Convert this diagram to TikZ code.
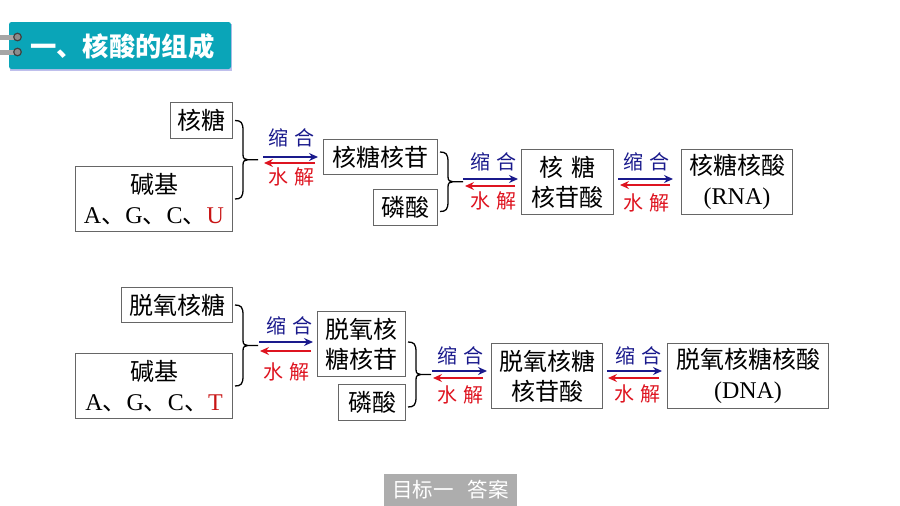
\documentclass[tikz,border=0pt]{standalone}
\usepackage{fontspec}
\setmainfont{Noto Sans CJK SC}
\newfontfamily\lat{Liberation Serif}
\usetikzlibrary{arrows.meta, calc}
\definecolor{titlecol}{RGB}{10,165,184}
\definecolor{hecol}{RGB}{26,26,140}
\definecolor{jiecol}{RGB}{222,20,32}
\definecolor{ucol}{RGB}{200,20,20}
\newcommand{\suohe}{缩\hspace*{6pt}合}
\newcommand{\shuijie}{水\hspace*{6pt}解}
\tikzset{
	box/.style={draw=black!60, line width=1pt, inner sep=0pt, align=center, font=\fontsize{24}{30}\selectfont},
	helabel/.style={text=hecol, inner sep=0pt, font=\fontsize{20}{20}\selectfont},
	jielabel/.style={text=jiecol, inner sep=0pt, font=\fontsize{20}{20}\selectfont},
	hearrow/.style={-{Stealth[length=9pt, width=8pt, inset=3pt]}, hecol, line width=1.5pt},
	jiearrow/.style={-{Stealth[length=9pt, width=8pt, inset=3pt]}, jiecol, line width=1.5pt},
	brkline/.style={black, line width=1.3pt},
	brk/.style={to path={
		let \p1=(\tikztostart), \p2=(\tikztotarget), \p3=($(\tikztostart)!.5!(\tikztotarget)$) in
		(\x1+2pt,\y1) .. controls (\x1+8pt,\y1) and (\x1+10pt,\y1-2pt) .. (\x1+10pt,\y1-10pt)
		-- (\x1+10pt,\y3+5pt) .. controls (\x1+10pt,\y3+1pt) and (\x1+12pt,\y3) .. (\x1+15pt,\y3)
		-- (\x1+25pt,\y3)
		(\x1+15pt,\y3) .. controls (\x1+12pt,\y3) and (\x1+10pt,\y3-1pt) .. (\x1+10pt,\y3-5pt)
		-- (\x1+10pt,\y2+10pt) .. controls (\x1+10pt,\y2+2pt) and (\x1+8pt,\y2) .. (\x1+2pt,\y2)
	}}
}
\begin{document}
\begin{tikzpicture}[x=1pt, y=-1pt]
	\useasboundingbox (0,0) rectangle (900,506);
	% title
	\fill [black!30!blue!25] (10,24) rectangle (232,71);
	\fill [titlecol, rounded corners=2.5pt] (9,22) rectangle (231,69);
	\fill [black!35] (0,34.5) rectangle (17,39.5);
	\fill [black!35] (0,49.5) rectangle (17,54.5);
	\draw [black!75, fill=black!45, line width=1.2pt] (17.5,37) circle (3.8);
	\draw [black!75, fill=black!45, line width=1.2pt] (17.5,52) circle (3.8);
	\node (title) [anchor=west, inner sep=0pt, text=white, font=\fontsize{26.3}{26.3}\selectfont\bfseries] at (30,46.5) {一、核酸的组成};

	% upper row
	\node (rib) [box, minimum width=62pt, minimum height=36pt] at (201.5,120.5) {核糖};
	\node (basea) [box, minimum width=157pt, minimum height=65pt] at (154,199) {碱基\\{\lat A}、{\lat G}、{\lat C}、{\lat\color{ucol}U}};
	\node (nucr) [box, minimum width=114pt, minimum height=35pt] at (380.5,157) {核糖核苷};
	\node (phosa) [box, minimum width=64pt, minimum height=36pt] at (405.5,207.5) {磷酸};
	\node (ntr) [box, minimum width=92pt, minimum height=65pt] at (567.5,182) {核\hspace*{8pt}糖\\核苷酸};
	\node (rna) [box, minimum width=111pt, minimum height=65pt] at (737,182) {核糖核酸\\{\lat (RNA)}};

	% lower row
	\node (drib) [box, minimum width=111pt, minimum height=35pt] at (177,305) {脱氧核糖};
	\node (baseb) [box, minimum width=157pt, minimum height=65pt] at (154,386) {碱基\\{\lat A}、{\lat G}、{\lat C}、{\lat\color{ucol}T}};
	\node (nucd) [box, minimum width=88pt, minimum height=65pt] at (361.5,344) {脱氧核\\糖核苷};
	\node (phosb) [box, minimum width=67pt, minimum height=36pt] at (372,402.5) {磷酸};
	\node (ntd) [box, minimum width=111pt, minimum height=65pt] at (547,376) {脱氧核糖\\核苷酸};
	\node (dna) [box, minimum width=161pt, minimum height=65pt] at (748,376) {脱氧核糖核酸\\{\lat (DNA)}};

	% braces
	\coordinate (b2top) at ([yshift=5pt]nucr.east);
	\coordinate (b2bot) at ([yshift=-4pt]phosa.east);
	\coordinate (b4top) at ([yshift=2pt]nucd.east);
	\coordinate (b4bot) at ([yshift=-4.5pt]phosb.east);
	\draw [brkline] (rib.east) to [brk] (basea.east);
	\draw [brkline] (b2top) to [brk] (b2bot);
	\draw [brkline] (drib.east) to [brk] (baseb.east);
	\draw [brkline] (b4top) to [brk] (b4bot);

	% arrows
	\coordinate (h1) at (263,157);
	\coordinate (j1) at (264,163);
	\coordinate (h2) at (463,179);
	\coordinate (j2) at (465,186);
	\coordinate (h3) at (618,179);
	\coordinate (j3) at (620,185);
	\coordinate (h4) at (259,342);
	\coordinate (j4) at (260,351);
	\coordinate (h5) at (432,371);
	\coordinate (j5) at (433,378);
	\coordinate (h6) at (607,371);
	\coordinate (j6) at (608,378);
	\draw [hearrow, shorten >=5pt] (h1) -- (nucr.west |- h1);
	\draw [jiearrow, shorten <=8pt] (nucr.west |- j1) -- (j1);
	\draw [hearrow, shorten >=3pt] (h2) -- (ntr.west |- h2);
	\draw [jiearrow, shorten <=6pt] (ntr.west |- j2) -- (j2);
	\draw [hearrow, shorten >=8pt] (h3) -- (rna.west |- h3);
	\draw [jiearrow, shorten <=11pt] (rna.west |- j3) -- (j3);
	\draw [hearrow, shorten >=4pt] (h4) -- (nucd.west |- h4);
	\draw [jiearrow, shorten <=6pt] (nucd.west |- j4) -- (j4);
	\draw [hearrow, shorten >=4pt] (h5) -- (ntd.west |- h5);
	\draw [jiearrow, shorten <=8pt] (ntd.west |- j5) -- (j5);
	\draw [hearrow, shorten >=5pt] (h6) -- (dna.west |- h6);
	\draw [jiearrow, shorten <=8pt] (dna.west |- j6) -- (j6);

	% arrow labels
	\node (he1) [helabel] at (291,138) {\suohe};
	\node (jie1) [jielabel] at (291,177) {\shuijie};
	\node (he2) [helabel] at (493,162) {\suohe};
	\node (jie2) [jielabel] at (493,201) {\shuijie};
	\node (he3) [helabel] at (646,162) {\suohe};
	\node (jie3) [jielabel] at (646,203) {\shuijie};
	\node (he4) [helabel] at (289,326) {\suohe};
	\node (jie4) [jielabel] at (286,372) {\shuijie};
	\node (he5) [helabel] at (460,356) {\suohe};
	\node (jie5) [jielabel] at (460,395) {\shuijie};
	\node (he6) [helabel] at (638,356) {\suohe};
	\node (jie6) [jielabel] at (637,394) {\shuijie};

	% bottom tag
	\node (tag) [fill=black!32, text=white, inner sep=0pt, minimum width=133pt, minimum height=32pt, font=\fontsize{20.5}{20.5}\selectfont] at (450.5,490) {目标一\hspace*{14pt}答案};
\end{tikzpicture}
\end{document}
